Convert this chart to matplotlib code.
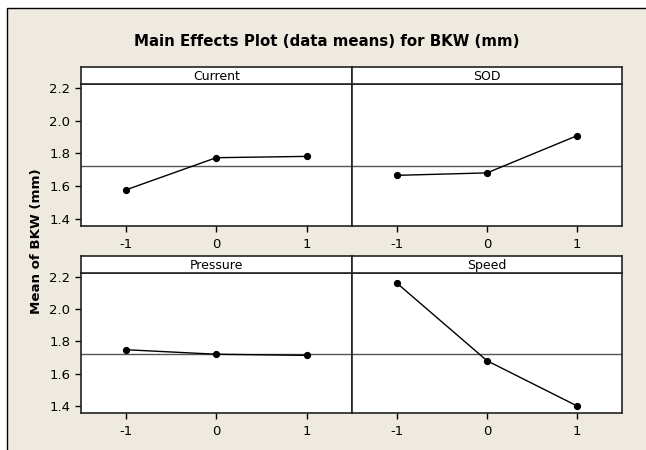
import matplotlib
matplotlib.use('Agg')
import matplotlib.pyplot as plt
from matplotlib.patches import Rectangle

# factor levels and mean response at each level
levels = [-1, 0, 1]
factors = ['Current', 'SOD', 'Pressure', 'Speed']
current = [1.576, 1.773, 1.781]
sod = [1.665, 1.680, 1.908]
pressure = [1.748, 1.720, 1.713]
speed = [2.160, 1.680, 1.400]
grand_mean = 1.722

yticks = [1.4, 1.6, 1.8, 2.0, 2.2]
ylim = (1.355, 2.224)
xlim = (-1.5, 1.5)

W, H = 646, 450
BG = '#eeeae0'

plt.rcParams['font.family'] = ['DejaVu Sans']

fig = plt.figure(figsize=(W / 100, H / 100), dpi=100, facecolor='white')

# beige panel with a black frame on the top and left
fig.patches.append(Rectangle((7 / W, -0.1), 1.2, 1.1 - 8 / H,
                             transform=fig.transFigure, facecolor=BG,
                             edgecolor='black', linewidth=1.0, zorder=-5))

fig.text(327 / W, 1 - 42 / H, 'Main Effects Plot (data means) for BKW (mm)',
         ha='center', va='center', fontsize=10.8, fontweight='bold')
fig.text(37 / W, 1 - 241 / H, 'Mean of BKW (mm)', rotation=90,
         ha='center', va='center', fontsize=9.6, fontweight='bold')

# pixel boxes: (left, right) per column, (strip top, strip bottom, plot bottom) per row
cols = [(80.7, 351.7), (351.7, 622.3)]
rows = [(66.7, 84.0, 226.0), (256.0, 272.7, 413.3)]
series = [current, sod, pressure, speed]

for i, (name, vals) in enumerate(zip(factors, series)):
    r, c = divmod(i, 2)
    x0, x1 = cols[c]
    st, sb, pb = rows[r]

    ax = fig.add_axes([x0 / W, 1 - pb / H, (x1 - x0) / W, (pb - sb) / H])
    ax.set_facecolor('white')
    ax.axhline(grand_mean, color='#555555', linewidth=1.0, zorder=1)
    ax.plot(levels, vals, color='black', linewidth=1.0, marker='o',
            markersize=4.2, zorder=3)
    ax.set_xlim(*xlim)
    ax.set_ylim(*ylim)
    ax.set_xticks(levels)
    ax.set_xticklabels(['-1', '0', '1'])
    ax.set_yticks(yticks)
    ax.tick_params(axis='x', length=4.5, width=1.0, pad=4, labelsize=9.5)
    ax.tick_params(axis='y', length=4.5, width=1.0, pad=3, labelsize=9.5)
    if c == 1:
        ax.tick_params(axis='y', left=False, labelleft=False)
    else:
        ax.set_yticklabels(['%.1f' % v for v in yticks])
    for sp in ax.spines.values():
        sp.set_linewidth(1.2)
        sp.set_color('#222222')

    sax = fig.add_axes([x0 / W, 1 - sb / H, (x1 - x0) / W, (sb - st) / H])
    sax.set_facecolor('white')
    sax.set_xticks([])
    sax.set_yticks([])
    for sp in sax.spines.values():
        sp.set_linewidth(1.2)
        sp.set_color('#222222')
    sax.text(0.5, 0.45, name, transform=sax.transAxes, ha='center',
             va='center', fontsize=9)

fig.savefig('out.png', dpi=100, facecolor=fig.get_facecolor())
